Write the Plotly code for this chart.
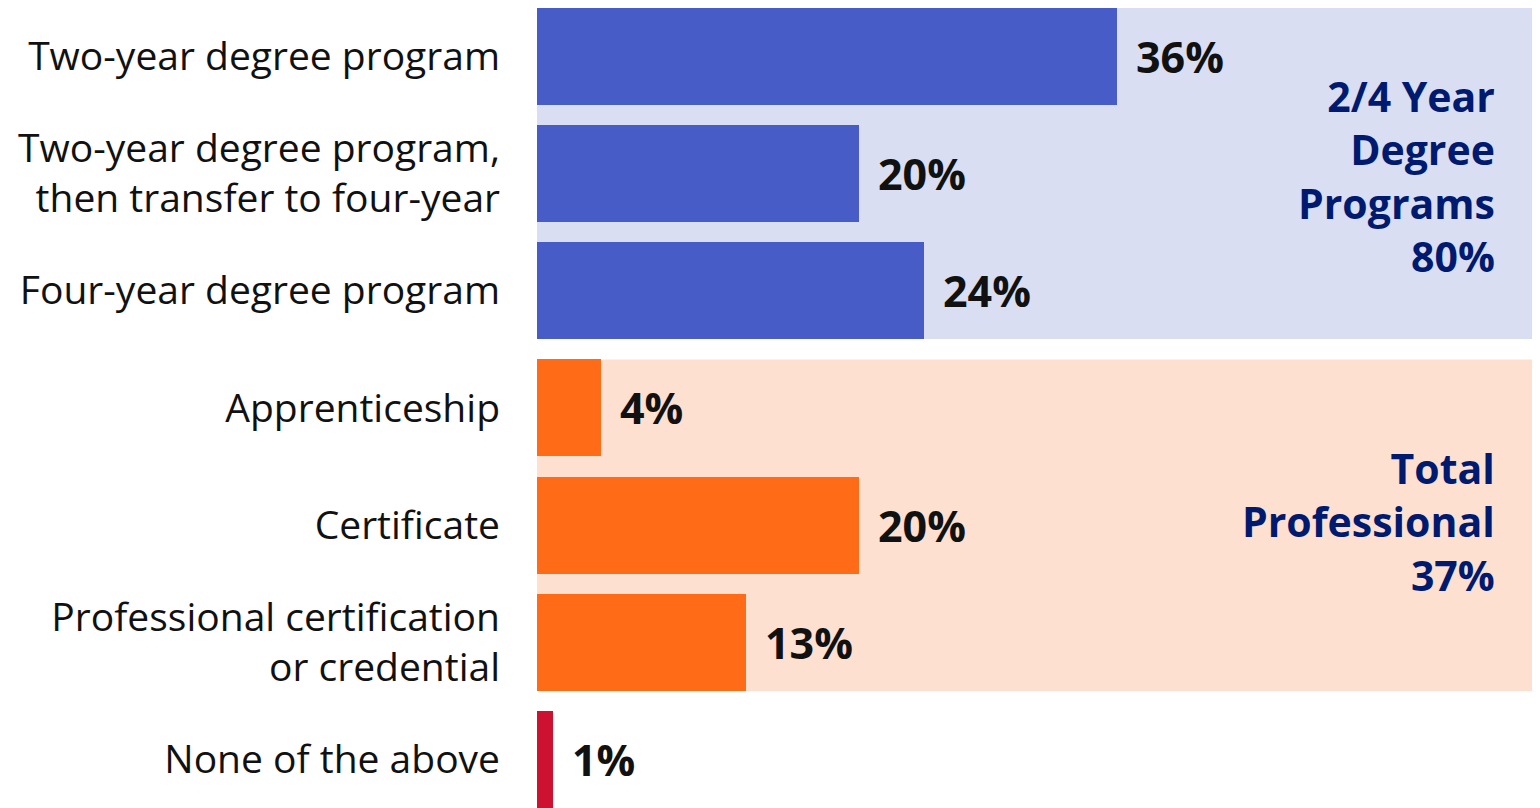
import plotly.graph_objects as go

categories = [
    "Two-year degree program",
    "Two-year degree program,<br>then transfer to four-year",
    "Four-year degree program",
    "Apprenticeship",
    "Certificate",
    "Professional certification<br>or credential",
    "None of the above",
]
values = [36, 20, 24, 4, 20, 13, 1]
bar_colors = ["#485CC7", "#485CC7", "#485CC7", "#FF6B17", "#FF6B17", "#FF6B17", "#CC1230"]
group_labels = ["2/4 Year<br>Degree<br>Programs<br>80%", "Total<br>Professional<br>37%"]
group_rows = [1, 4]
group_yshift = [-3, 4]
group_spans = [(0, 2), (3, 5)]
group_fills = ["#D9DEF2", "#FDE0D0"]

FONT = "Open Sans"
BAR_W = 0.827
ROW_PX = 117.3
ypos = list(range(len(categories)))

fig = go.Figure()
fig.add_trace(go.Bar(
    x=values, y=ypos, orientation="h", width=BAR_W,
    marker=dict(color=bar_colors, line=dict(width=0)),
    hoverinfo="skip",
))

shapes = []
for (a, b), col in zip(group_spans, group_fills):
    shapes.append(dict(type="rect", xref="paper", yref="y", x0=0, x1=1,
                       y0=a - BAR_W / 2, y1=b + BAR_W / 2,
                       fillcolor=col, line=dict(width=0), layer="below"))

annotations = []
for v, y in zip(values, ypos):
    annotations.append(dict(x=v, y=y, xref="x", yref="y", text=f"<b>{v}%</b>",
                            showarrow=False, xanchor="left", yanchor="middle", xshift=17,
                            font=dict(family=FONT, size=43, color="#111111")))
for t, r, ys in zip(group_labels, group_rows, group_yshift):
    annotations.append(dict(x=1, y=r, xref="paper", yref="y", text=f"<b>{t}</b>",
                            showarrow=False, xanchor="right", yanchor="middle", xshift=-35,
                            yshift=ys, align="right",
                            font=dict(family=FONT, size=41, color="#001A70")))

top = -48 / ROW_PX
fig.update_layout(
    width=1540, height=808,
    margin=dict(l=529, r=16, t=0, b=0),
    plot_bgcolor="white", paper_bgcolor="white",
    showlegend=False,
    bargap=0,
    shapes=shapes,
    annotations=annotations,
    font=dict(family=FONT, color="#111111"),
    xaxis=dict(range=[0, 61.76], visible=False, fixedrange=True),
    yaxis=dict(range=[top + 808 / ROW_PX, top], tickvals=ypos, ticktext=categories,
               showgrid=False, zeroline=False, showline=False, ticks="",
               ticklabelstandoff=36,
               tickfont=dict(family=FONT, size=39, color="#111111"), fixedrange=True),
)

fig.write_html("out.html")
